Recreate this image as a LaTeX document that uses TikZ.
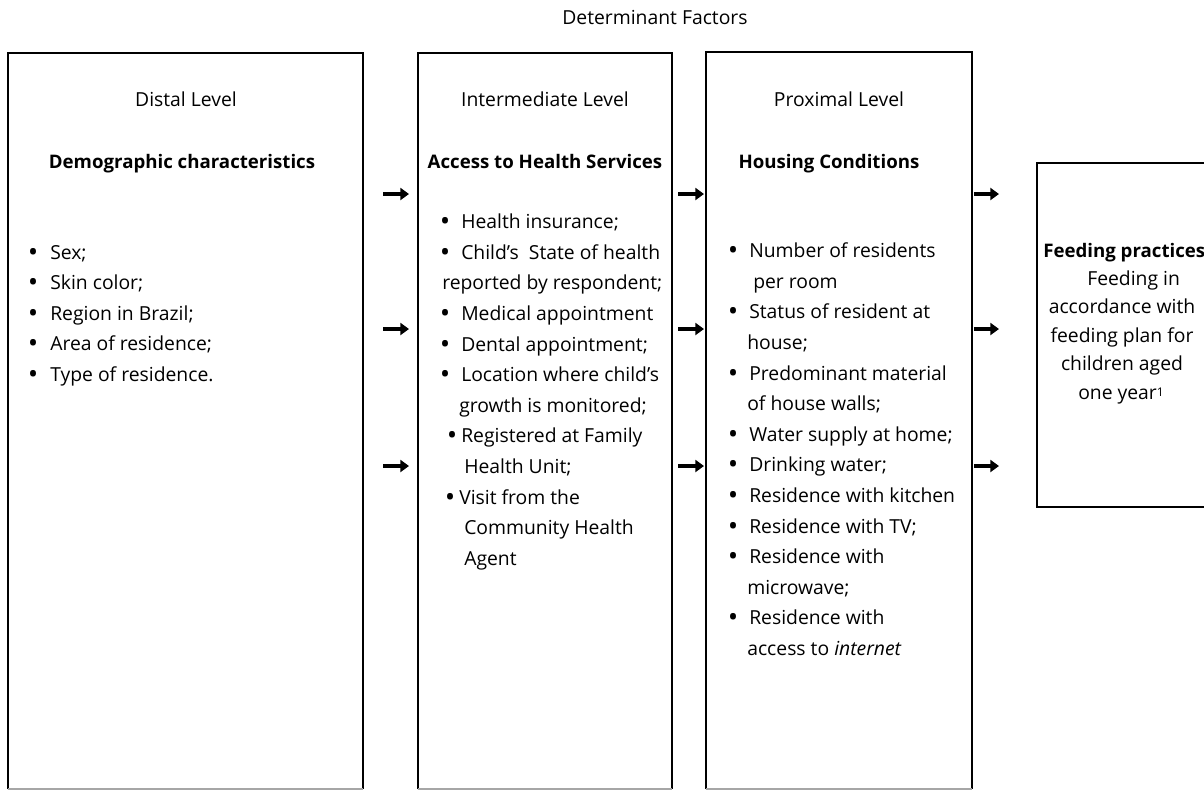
\documentclass[tikz,border=0pt]{standalone}
\usepackage{fontspec}
\setmainfont{Open Sans}
\usetikzlibrary{arrows.meta}
\newcommand{\regf}{\fontsize{14.5}{17}\selectfont}
\newcommand{\boldf}{\fontsize{14}{17}\selectfont\bfseries}
\newcommand{\bigbul}{\scalebox{1.1}{\bfseries\textbullet}}
\begin{document}
\begin{tikzpicture}[x=0.75pt,y=-0.75pt,
  frame/.style={line width=1.6pt, line join=miter},
  bottomedge/.style={line width=1pt, draw=black!35},
  txt/.style={font=\regf, inner sep=0pt, anchor=base west},
  ctxt/.style={font=\regf, inner sep=0pt, anchor=base},
  htxt/.style={font=\boldf, inner sep=0pt, anchor=base},
  bul/.style={font=\regf, inner sep=0pt, anchor=base},
  conn/.style={line width=3pt, -{Triangle[length=6.5pt,width=9pt]}}]
\clip (0,0) rectangle (1204,790);
\useasboundingbox (0,0) rectangle (1204,790);

% boxes
\draw[frame] (8,789) -- (8,53) -- (363,53) -- (363,789);
\draw[bottomedge] (8,789) -- (363,789);
\draw[frame] (418,789) -- (418,53) -- (672,53) -- (672,789);
\draw[bottomedge] (418,789) -- (672,789);
\draw[frame] (706,789) -- (706,52) -- (972,52) -- (972,789);
\draw[bottomedge] (706,789) -- (972,789);
\draw[frame] (1037,163) rectangle (1220,507);

\begin{scope}[yshift=-1.5pt]
% title
\node[ctxt] (title) at (655,22) {Determinant Factors};

% box 1
\node[ctxt] (d1) at (186,104) {Distal Level};
\node[htxt] (d2) at (182,166) {Demographic characteristics};
\foreach \t [count=\i from 0] in {Sex;, Skin color;, Region in Brazil;, Area of residence;, Type of residence.}{
  \node[bul] (db\i) at (33,257+30.6*\i) {\bigbul};
  \node[txt] (dt\i) at (50,257+30.6*\i) {\t};
}

% box 2
\node[ctxt] (i1) at (545,104) {Intermediate Level};
\node[htxt] (i2) at (545,166) {Access to Health Services};
\node[bul] (ib0) at (445,226.7) {\bigbul};
\node[txt] (it0) at (461,226.7) {Health insurance;};
\node[bul] (ib1) at (445,257.3) {\bigbul};
\node[txt] (it1) at (461,257.3) {Child’s\ \ State of health};
\node[txt] (it2) at (442,287.9) {reported by respondent;};
\node[bul] (ib3) at (445,318.5) {\bigbul};
\node[txt] (it3) at (461,318.5) {Medical appointment};
\node[bul] (ib4) at (445,349.1) {\bigbul};
\node[txt] (it4) at (461,349.1) {Dental appointment;};
\node[bul] (ib5) at (445,379.7) {\bigbul};
\node[txt] (it5) at (461,379.7) {Location where child’s};
\node[txt] (it6) at (459,410.3) {growth is monitored;};
\node[bul] (ib7) at (452,440.9) {\bigbul};
\node[txt] (it7) at (461,440.9) {Registered at Family};
\node[txt] (it8) at (464,471.5) {Health Unit;};
\node[bul] (ib9) at (450,502.1) {\bigbul};
\node[txt] (it9) at (459,502.1) {Visit from the};
\node[txt] (it10) at (464,532.7) {Community Health};
\node[txt] (it11) at (464,563.3) {Agent};

% box 3
\node[ctxt] (p1) at (839,104) {Proximal Level};
\node[htxt] (p2) at (829,166) {Housing Conditions};
\node[bul] (pb0) at (733,255.7) {\bigbul};
\node[txt] (pt0) at (749,255.7) {Number of residents};
\node[txt] (pt1) at (753,286.3) {per room};
\node[bul] (pb2) at (733,316.9) {\bigbul};
\node[txt] (pt2) at (749,316.9) {Status of resident at};
\node[txt] (pt3) at (747,347.5) {house;};
\node[bul] (pb4) at (733,378.1) {\bigbul};
\node[txt] (pt4) at (749,378.1) {Predominant material};
\node[txt] (pt5) at (747,408.7) {of house walls;};
\node[bul] (pb6) at (733,439.3) {\bigbul};
\node[txt] (pt6) at (749,439.3) {Water supply at home;};
\node[bul] (pb7) at (733,469.9) {\bigbul};
\node[txt] (pt7) at (749,469.9) {Drinking water;};
\node[bul] (pb8) at (733,500.5) {\bigbul};
\node[txt] (pt8) at (749,500.5) {Residence with kitchen};
\node[bul] (pb9) at (733,531.1) {\bigbul};
\node[txt] (pt9) at (749,531.1) {Residence with TV;};
\node[bul] (pb10) at (733,561.7) {\bigbul};
\node[txt] (pt10) at (749,561.7) {Residence with};
\node[txt] (pt11) at (747,592.3) {microwave;};
\node[bul] (pb12) at (733,622.9) {\bigbul};
\node[txt] (pt12) at (749,622.9) {Residence with};
\node[txt] (pt13) at (747,653.5) {access to \textit{internet}};

% box 4
\node[txt, font=\boldf] (f0) at (1043,255) {Feeding practices};
\node[txt] (f1) at (1087,283) {Feeding in};
\node[ctxt] (f2) at (1122,311.7) {accordance with};
\node[ctxt] (f3) at (1122,340) {feeding plan for};
\node[ctxt] (f4) at (1122,368) {children aged};
\node[ctxt] (f5) at (1121,397.7) {one year\raisebox{0.3ex}{\fontsize{9}{10}\selectfont 1}};
\end{scope}

% arrows
\foreach \y [count=\k] in {194,329,466}{
  \coordinate (a\k s) at (383,\y); \coordinate (a\k e) at (409,\y);
  \coordinate (b\k s) at (678,\y); \coordinate (b\k e) at (704,\y);
  \coordinate (c\k s) at (974,\y); \coordinate (c\k e) at (999,\y);
  \draw[conn] (a\k s) -- (a\k e);
  \draw[conn] (b\k s) -- (b\k e);
  \draw[conn] (c\k s) -- (c\k e);
}
\end{tikzpicture}
\end{document}
